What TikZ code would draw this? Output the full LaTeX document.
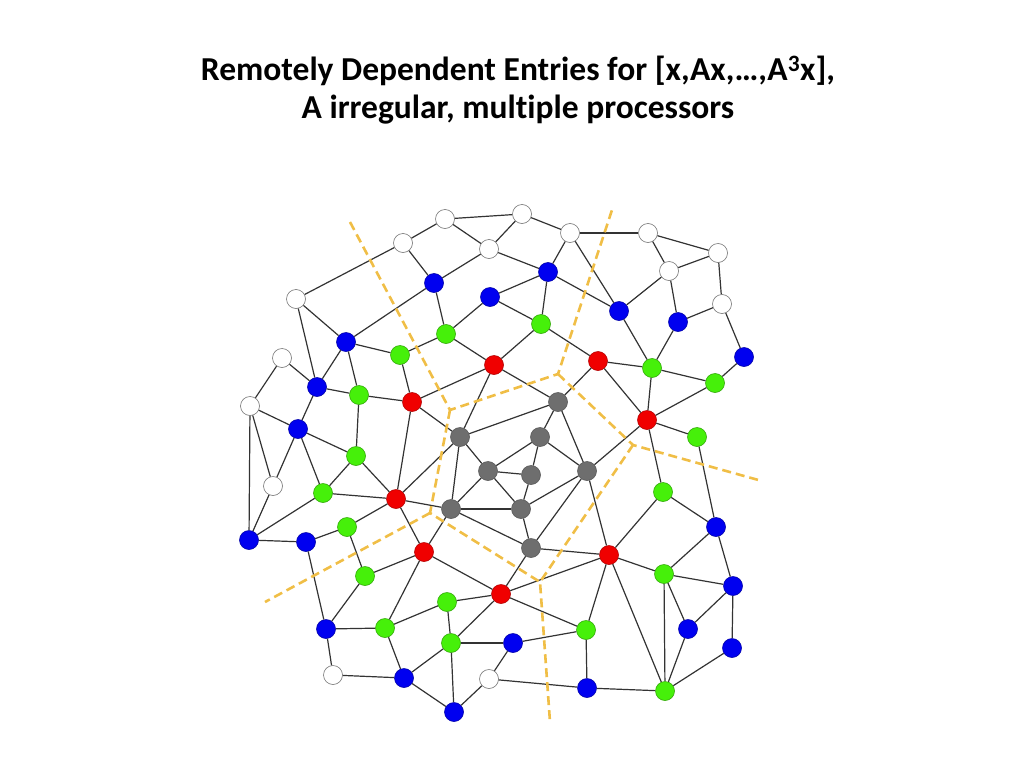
\documentclass[tikz,border=0pt]{standalone}
\usepackage{fontspec}
\setmainfont{Carlito}[Ligatures=NoCommon]
\usetikzlibrary{backgrounds}
\definecolor{nblue}{RGB}{0,0,240}
\definecolor{ngreen}{RGB}{70,240,10}
\definecolor{nred}{RGB}{240,0,0}
\definecolor{ngray}{RGB}{110,110,110}
\definecolor{dashy}{RGB}{240,190,70}
\tikzset{
  vtx/.style={circle,minimum size=19pt,inner sep=0pt,line width=0.6pt},
  wn/.style={vtx,fill=white,draw=black!55},
  bn/.style={vtx,fill=nblue,draw=nblue!70!black},
  gn/.style={vtx,fill=ngreen,draw=ngreen!70!black},
  rn/.style={vtx,fill=nred,draw=nred!75!black},
  kn/.style={vtx,fill=ngray,draw=ngray!80!black},
  edge/.style={draw=black!80,line width=1.2pt},
  part/.style={draw=dashy,line width=2.6pt,dash pattern=on 9pt off 5pt}
}
\begin{document}
\begin{tikzpicture}[x=1pt,y=-1pt]
\useasboundingbox (0,0) rectangle (1024,768);
\node[font=\fontsize{33.5}{38}\selectfont\bfseries,align=center] (title) at (518,90)
  {Remotely Dependent Entries for [x,Ax,…,A\textsuperscript{3}x],\\A irregular, multiple processors};
% white
\node[wn] (W1) at (445,219) {};
\node[wn] (W2) at (522,214) {};
\node[wn] (W3) at (403,243) {};
\node[wn] (W4) at (489,249) {};
\node[wn] (W5) at (570,233) {};
\node[wn] (W6) at (648,233) {};
\node[wn] (W7) at (718,253) {};
\node[wn] (W8) at (669,271) {};
\node[wn] (W9) at (722,304) {};
\node[wn] (W10) at (296,299) {};
\node[wn] (W11) at (282,358) {};
\node[wn] (W12) at (250,406) {};
\node[wn] (W13) at (273,486) {};
\node[wn] (W14) at (333,675) {};
\node[wn] (W15) at (489,679) {};
% blue
\node[bn] (B1) at (434,283) {};
\node[bn] (B2) at (548,272) {};
\node[bn] (B3) at (490,297) {};
\node[bn] (B4) at (619,311) {};
\node[bn] (B5) at (678,322) {};
\node[bn] (B6) at (744,357) {};
\node[bn] (B7) at (346,342) {};
\node[bn] (B8) at (317,387) {};
\node[bn] (B9) at (298,429) {};
\node[bn] (B10) at (249,540) {};
\node[bn] (B11) at (306,542) {};
\node[bn] (B12) at (326,629) {};
\node[bn] (B13) at (404,678) {};
\node[bn] (B14) at (454,712) {};
\node[bn] (B15) at (513,643) {};
\node[bn] (B16) at (587,688) {};
\node[bn] (B17) at (688,629) {};
\node[bn] (B18) at (733,586) {};
\node[bn] (B19) at (732,648) {};
\node[bn] (B20) at (716,527) {};
% green
\node[gn] (G1) at (446,334) {};
\node[gn] (G2) at (541,324) {};
\node[gn] (G3) at (400,355) {};
\node[gn] (G4) at (359,395) {};
\node[gn] (G5) at (652,368) {};
\node[gn] (G6) at (715,383) {};
\node[gn] (G7) at (697,437) {};
\node[gn] (G8) at (356,456) {};
\node[gn] (G9) at (323,493) {};
\node[gn] (G10) at (347,527) {};
\node[gn] (G11) at (663,492) {};
\node[gn] (G12) at (365,576) {};
\node[gn] (G13) at (447,602) {};
\node[gn] (G14) at (664,574) {};
\node[gn] (G15) at (385,628) {};
\node[gn] (G16) at (451,643) {};
\node[gn] (G17) at (586,630) {};
\node[gn] (G18) at (665,691) {};
% red
\node[rn] (R1) at (494,365) {};
\node[rn] (R2) at (598,361) {};
\node[rn] (R3) at (412,402) {};
\node[rn] (R4) at (647,420) {};
\node[rn] (R5) at (396,499) {};
\node[rn] (R6) at (424,552) {};
\node[rn] (R7) at (609,555) {};
\node[rn] (R8) at (501,594) {};
% gray
\node[kn] (K1) at (558,402) {};
\node[kn] (K2) at (460,437) {};
\node[kn] (K3) at (540,437) {};
\node[kn] (K4) at (488,471) {};
\node[kn] (K5) at (531,475) {};
\node[kn] (K6) at (587,471) {};
\node[kn] (K7) at (451,509) {};
\node[kn] (K8) at (521,509) {};
\node[kn] (K9) at (531,548) {};
% edges
\foreach \a/\b in {W1/W2,W1/W4,W2/W4,W3/W1,W3/W10,W3/B1,W4/B1,W4/B2,W2/W5,W5/W6,W5/B2,W5/B4,
  W6/W8,W6/W7,W7/W8,W7/W9,W8/B4,W8/B5,W9/B5,W9/B6,
  B1/B7,B1/G1,B3/B2,B3/G1,B3/G2,B2/G2,B2/B4,G1/G3,G1/R1,G2/R1,G2/R2,R2/G5,R2/K1,R2/R4,
  B4/G5,B5/G5,G5/G6,G6/B6,G5/R4,R4/G6,R4/G7,R4/G11,R4/K6,
  W10/B7,W10/B8,B7/G3,B7/B8,B7/G4,W11/B8,W11/W12,B8/G4,B8/B9,G3/R3,G4/R3,R3/R1,R3/K2,R3/R5,R1/K2,R1/K1,
  W12/B9,W12/W13,W12/B10,B9/W13,W13/B10,B9/G8,B9/G9,G4/G8,G8/G9,G8/R5,G9/R5,B10/G9,B10/B11,B11/G10,
  G10/R5,R5/K2,R5/K7,R5/R6,B11/B12,G10/G12,G12/R6,G12/B12,R6/G15,R6/R8,R6/K7,
  K1/K2,K1/K3,K1/K6,K2/K4,K2/K7,K3/K4,K3/K5,K3/K6,K4/K5,K4/K8,K5/K8,K6/K8,K6/R7,K6/K9,K7/K4,K7/K8,K7/K9,K8/K9,K9/R7,K9/R8,
  G7/B20,G11/B20,G11/R7,B20/G14,B20/B18,
  R8/G13,G13/G15,G13/G16,R8/G16,B12/G15,B12/W14,W14/B13,G15/B13,B13/G16,B13/B14,G16/B14,B14/W15,G16/B15,W15/B15,W15/B16,
  R8/R7,R8/G17,R7/G17,R7/G18,R7/G14,G14/G18,G14/B17,G14/B18,B18/B17,B17/G18,B18/B19,B19/G18,G17/B15,G17/B16,B16/G18}
  {\draw[edge] (\a) -- (\b);}
% partition lines
\coordinate (p0) at (350,222);
\coordinate (j1) at (450,410);
\coordinate (j2) at (558,374);
\coordinate (p1) at (612,210);
\coordinate (j3) at (633,445);
\coordinate (p2) at (762,481);
\coordinate (j4) at (540,582);
\coordinate (p3) at (550,722);
\coordinate (j5) at (430,513);
\coordinate (p4) at (265,602);
\draw[part] (p0) -- (j1) -- (j2) -- (p1);
\draw[part] (j2) -- (j3) -- (p2);
\draw[part] (j3) -- (j4) -- (p3);
\draw[part] (j1) -- (j5) -- (j4);
\draw[part] (j5) -- (p4);
\end{tikzpicture}
\end{document}
